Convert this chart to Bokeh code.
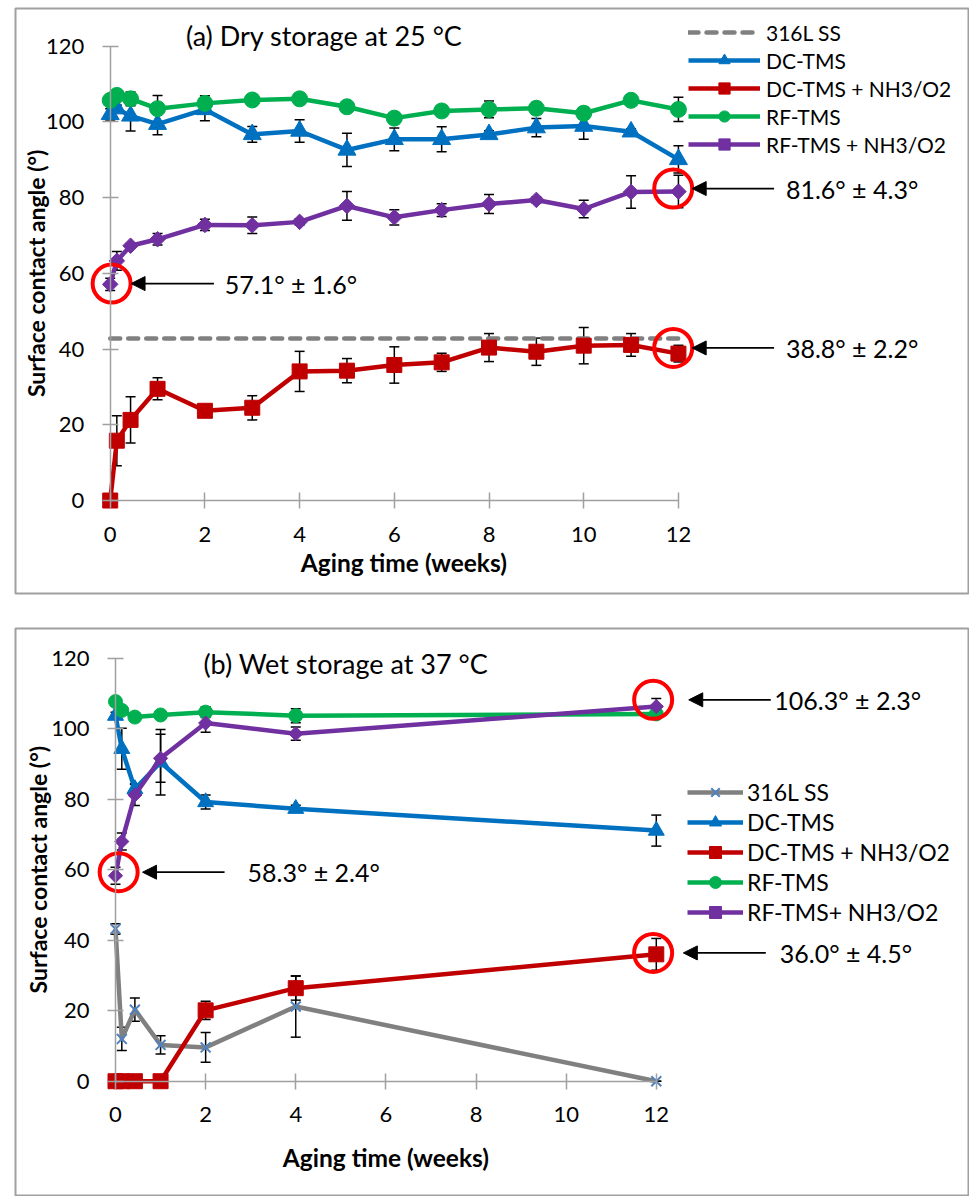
import math

from bokeh.embed import file_html
from bokeh.layouts import column
from bokeh.models import (Arrow, ColumnDataSource, Label, Legend, LegendItem,
                          NormalHead, Range1d, SingleIntervalTicker, TeeHead,
                          Whisker)
from bokeh.plotting import figure
from bokeh.resources import INLINE

# ---------------------------------------------------------------- data ----
# (a) dry storage at 25 °C
weeks_a = [0, 0.14, 0.43, 1, 2, 3, 4, 5, 6, 7, 8, 9, 10, 11, 12]
ss_a_weeks = [0, 12]
ss_a = [42.8, 42.8]
dc_tms_a = [102.0, 103.5, 101.6, 99.4, 103.3, 96.7, 97.6, 92.6, 95.4, 95.4, 96.7, 98.5, 98.9, 97.4, 90.1]
dc_tms_a_err = [1.5, 1.0, 4.0, 2.8, 3.0, 2.1, 3.0, 4.4, 3.0, 3.3, 1.0, 2.4, 3.5, 0.8, 3.6]
dc_nh3_a = [0.0, 15.8, 21.3, 29.5, 23.7, 24.5, 34.1, 34.3, 35.8, 36.5, 40.4, 39.3, 40.9, 41.1, 38.8]
dc_nh3_a_err = [0.0, 6.6, 6.1, 2.9, 0.5, 3.2, 5.3, 3.2, 4.8, 2.4, 3.7, 3.6, 4.8, 3.0, 2.2]
rf_tms_a = [105.7, 107.0, 106.1, 103.5, 104.9, 105.8, 106.1, 104.0, 101.0, 102.9, 103.3, 103.6, 102.3, 105.7, 103.3]
rf_tms_a_err = [1.0, 0.8, 1.8, 3.5, 2.0, 0.5, 1.2, 1.0, 0.5, 0.5, 2.2, 1.5, 1.5, 0.5, 3.2]
rf_nh3_a = [57.1, 63.3, 67.3, 69.0, 72.8, 72.7, 73.6, 77.8, 74.8, 76.7, 78.3, 79.4, 77.0, 81.5, 81.6]
rf_nh3_a_err = [1.6, 2.5, 0.5, 1.5, 1.5, 2.2, 0.8, 3.8, 2.0, 1.7, 2.5, 0.8, 2.3, 4.3, 4.3]

# (b) wet storage at 37 °C
weeks_b = [0, 0.14, 0.43, 1, 2, 4, 12]
ss_b = [43.2, 12.0, 20.3, 10.3, 9.6, 21.2, 0.0]
ss_b_err = [1.5, 3.3, 3.3, 2.6, 4.2, 8.7, 0.0]
dc_tms_b = [103.7, 94.3, 82.9, 90.5, 79.2, 77.3, 71.1]
dc_tms_b_err = [1.0, 5.8, 1.5, 9.3, 2.0, 1.0, 4.4]
dc_nh3_b = [0.0, 0.0, 0.0, 0.0, 20.1, 26.4, 36.0]
dc_nh3_b_err = [0.0, 0.0, 0.0, 0.0, 2.6, 3.4, 4.5]
rf_tms_b = [107.7, 105.2, 103.3, 103.9, 104.7, 103.7, 104.2]
rf_tms_b_err = [1.0, 1.0, 0.5, 0.5, 1.5, 2.0, 1.0]
rf_nh3_b = [58.3, 68.0, 81.2, 91.6, 101.6, 98.6, 106.3]
rf_nh3_b_err = [2.4, 2.4, 3.0, 6.8, 2.6, 1.9, 2.3]

X_TITLE = "Aging time (weeks)"
Y_TITLE = "Surface contact angle (°)"

# ---------------------------------------------------------------- style ---
FONT = "Lato"
AXIS_GRAY = "#a0a0a0"
BLUE, RED, GREEN, PURPLE, GRAY = "#0070C0", "#C00000", "#00B050", "#7030A0", "#808080"
SS_MARK = "#4F81BD"


def make_figure(height, x_range, y_range, left, top, bottom):
    p = figure(width=969, height=height, x_range=Range1d(*x_range), y_range=Range1d(*y_range),
               output_backend="svg", toolbar_location=None,
               min_border_left=left, min_border_right=0, min_border_top=top,
               min_border_bottom=bottom, outline_line_color=AXIS_GRAY, outline_line_width=2,
               background_fill_color="white", border_fill_color="white")
    p.grid.visible = False

    # axes cross at the data origin and only span the plotted domain
    p.xaxis.fixed_location = 0
    p.yaxis.fixed_location = 0
    p.xaxis.bounds = (0, 12)
    p.yaxis.bounds = (0, 120)
    p.xaxis.ticker = SingleIntervalTicker(interval=2, num_minor_ticks=0)
    p.yaxis.ticker = SingleIntervalTicker(interval=20, num_minor_ticks=0)
    for ax in (p.xaxis, p.yaxis):
        ax.axis_line_color = AXIS_GRAY
        ax.axis_line_width = 1.5
        ax.major_tick_line_color = AXIS_GRAY
        ax.major_tick_line_width = 1.5
        ax.major_tick_in = 8
        ax.major_tick_out = 8
        ax.minor_tick_line_color = None
        ax.major_label_text_font = FONT
        ax.major_label_text_font_size = "22px"
        ax.major_label_text_color = "black"
    p.xaxis.major_label_standoff = 18
    p.yaxis.major_label_standoff = 18
    return p


def add_axis_titles(p, x_pos, y_pos):
    """Axis titles centred on the 0-12 / 0-120 spans of the crossing axes."""
    p.add_layout(Label(x=x_pos[0], y=x_pos[1], text=X_TITLE, text_font=FONT,
                       text_font_style="bold", text_font_size="24.5px", text_color="black",
                       text_align="center", text_baseline="middle"))
    p.add_layout(Label(x=y_pos[0], y=y_pos[1], text=Y_TITLE, text_font=FONT,
                       text_font_style="bold", text_font_size="23px", text_color="black",
                       text_align="center", text_baseline="middle", angle=math.pi / 2))


def add_series(p, x, y, err, color, marker, size, line_dash="solid",
               mark_color=None, mark_fill=True, angle=0.0, mark_width=1.0):
    data = dict(x=x, y=y)
    if err is not None:
        data["lo"] = [v - e for v, e in zip(y, err)]
        data["hi"] = [v + e for v, e in zip(y, err)]
    src = ColumnDataSource(data)
    renderers = [p.line("x", "y", source=src, line_color=color, line_width=4.5,
                        line_dash=line_dash, line_cap="round" if line_dash != "solid" else "butt",
                        line_join="round")]
    if err is not None:
        p.add_layout(Whisker(source=src, base="x", upper="hi", lower="lo",
                             line_color="black", line_width=1.5,
                             upper_head=TeeHead(size=10, line_color="black", line_width=1.5),
                             lower_head=TeeHead(size=10, line_color="black", line_width=1.5)))
    if marker is not None:
        mc = mark_color or color
        renderers.append(p.scatter("x", "y", source=src, marker=marker, size=size, angle=angle,
                                   fill_color=mc if mark_fill else None, line_color=mc,
                                   line_width=mark_width))
    return renderers


def add_callouts(p, callouts):
    for x, y, e, dx, dy, ax0, ax1, tx in callouts:
        p.scatter([x + dx], [y + dy], marker="circle", size=38, fill_color=None,
                  line_color="#FF0000", line_width=4)
        p.add_layout(Arrow(x_start=ax0, y_start=y + dy, x_end=ax1, y_end=y + dy,
                           line_color="black", line_width=1.8,
                           end=NormalHead(size=14, fill_color="black", line_color="black",
                                          line_width=1)))
        p.add_layout(Label(x=tx, y=y + dy, text=f"{y:.1f}° ± {e:.1f}°", text_font=FONT,
                           text_font_size="25px", text_color="black", text_baseline="middle"))


def add_legend(p, items, loc, glyph_w, row_h, standoff, font_size):
    p.add_layout(Legend(items=[LegendItem(label=lab, renderers=r) for lab, r in items],
                        location=loc, orientation="vertical", padding=0, spacing=0,
                        margin=0, glyph_width=glyph_w, glyph_height=row_h, label_height=row_h,
                        label_standoff=standoff, label_text_font=FONT,
                        label_text_font_size=font_size, label_text_color="black",
                        border_line_color=None, background_fill_alpha=0))


# ------------------------------------------------------------- panel (a) ---
pa = make_figure(610, (-2.0, 18.147), (-24.56, 129.96), left=12, top=8, bottom=17)
r_ss_a = add_series(pa, ss_a_weeks, ss_a, None, GRAY, None, 0, line_dash="10 8")
r_dc_a = add_series(pa, weeks_a, dc_tms_a, dc_tms_a_err, BLUE, "triangle", 18)
r_dcn_a = add_series(pa, weeks_a, dc_nh3_a, dc_nh3_a_err, RED, "square", 15)
r_rf_a = add_series(pa, weeks_a, rf_tms_a, rf_tms_a_err, GREEN, "circle", 16)
r_rfn_a = add_series(pa, weeks_a, rf_nh3_a, rf_nh3_a_err, PURPLE, "square", 11,
                     angle=math.pi / 4)
add_callouts(pa, [
    (weeks_a[0], rf_nh3_a[0], rf_nh3_a_err[0], 0.03, 0.2, 2.19, 0.44, 2.42),
    (weeks_a[-1], rf_nh3_a[-1], rf_nh3_a_err[-1], -0.11, 0.8, 14.02, 12.29, 14.27),
    (weeks_a[-1], dc_nh3_a[-1], dc_nh3_a_err[-1], -0.11, 1.5, 14.02, 12.29, 14.27),
])
add_legend(pa, [("316L SS", r_ss_a), ("DC-TMS", r_dc_a), ("DC-TMS + NH3/O2", r_dcn_a),
                ("RF-TMS", r_rf_a), ("RF-TMS + NH3/O2", r_rfn_a)],
           loc=(673, 435), glyph_w=72, row_h=28, standoff=6, font_size="21px")
pa.add_layout(Label(x=1.6, y=122.8, text="(a) Dry  storage at 25 °C", text_font=FONT,
                    text_font_size="27px", text_color="black", text_baseline="middle"))
add_axis_titles(pa, (6.2, -16.3), (-1.56, 60))

# ------------------------------------------------------------- panel (b) ---
pb = make_figure(586, (-2.219, 18.95), (-32.7, 128.43), left=15, top=18, bottom=0)
r_ss_b = add_series(pb, weeks_b, ss_b, ss_b_err, GRAY, "x", 14, mark_color=SS_MARK,
                    mark_fill=False, mark_width=2)
r_dc_b = add_series(pb, weeks_b, dc_tms_b, dc_tms_b_err, BLUE, "triangle", 16)
r_dcn_b = add_series(pb, weeks_b, dc_nh3_b, dc_nh3_b_err, RED, "square", 15)
r_rf_b = add_series(pb, weeks_b, rf_tms_b, rf_tms_b_err, GREEN, "circle", 14)
r_rfn_b = add_series(pb, weeks_b, rf_nh3_b, rf_nh3_b_err, PURPLE, "square", 10,
                     angle=math.pi / 4)
add_callouts(pb, [
    (weeks_b[0], rf_nh3_b[0], rf_nh3_b_err[0], 0.07, 1.0, 2.42, 0.60, 2.93),
    (weeks_b[-1], rf_nh3_b[-1], rf_nh3_b_err[-1], -0.07, 1.9, 14.54, 12.72, 14.62),
    (weeks_b[-1], dc_nh3_b[-1], dc_nh3_b_err[-1], -0.07, 0.4, 14.43, 12.60, 14.74),
])
add_legend(pb, [("316L SS", r_ss_b), ("DC-TMS", r_dc_b), ("DC-TMS + NH3/O2", r_dcn_b),
                ("RF-TMS", r_rf_b), ("RF-TMS+ NH3/O2", r_rfn_b)],
           loc=(672, 269), glyph_w=56, row_h=30, standoff=4, font_size="23px")
pb.add_layout(Label(x=1.95, y=118.4, text="(b) Wet storage at 37 °C", text_font=FONT,
                    text_font_size="27px", text_color="black", text_baseline="middle"))
add_axis_titles(pb, (6.0, -21.5), (-1.71, 60))

layout = column(pa, pb, spacing=0)
open("out.html", "w").write(file_html(layout, INLINE))
